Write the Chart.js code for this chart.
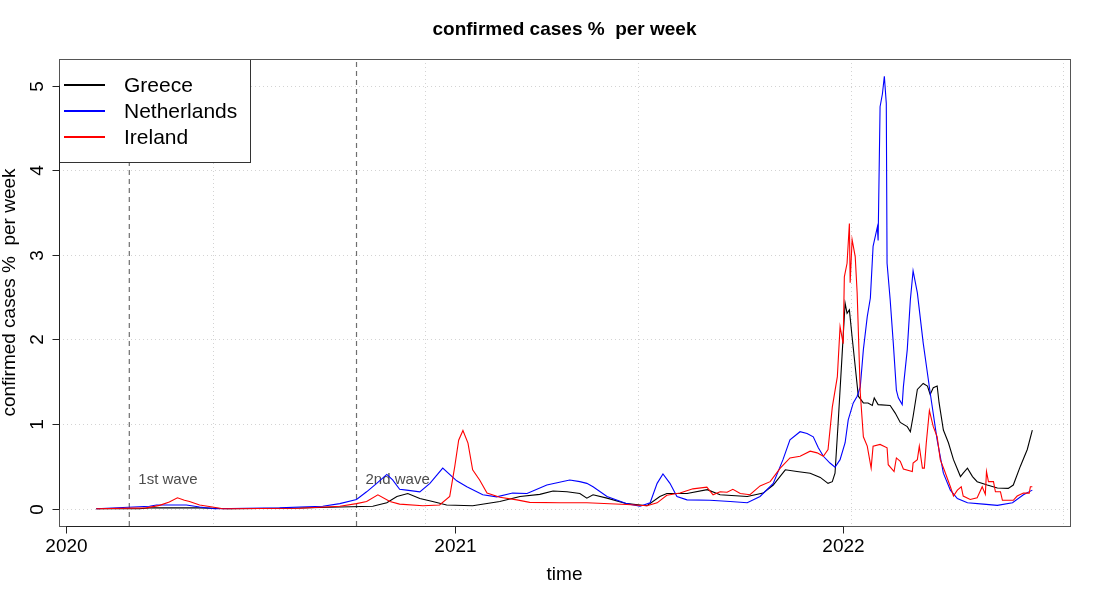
<!DOCTYPE html>
<html>
<head>
<meta charset="utf-8">
<script src="https://cdn.jsdelivr.net/npm/chart.js@4.4.1/dist/chart.umd.min.js"></script>
<style>
  html, body { margin: 0; padding: 0; background: #fff; }
  #wrap { width: 1100px; height: 600px; }
</style>
</head>
<body>
<div id="wrap"><canvas id="chart" width="1100" height="600"></canvas></div>
<script>
// time is in decimal years
var greeceTime = [2020.077, 2020.188, 2020.214, 2020.343, 2020.420, 2020.575, 2020.704, 2020.789, 2020.825, 2020.851,
  2020.879, 2020.910, 2020.943, 2020.979, 2021.046, 2021.116, 2021.168, 2021.219, 2021.253, 2021.289,
  2021.322, 2021.340, 2021.356, 2021.392, 2021.443, 2021.495, 2021.528, 2021.546, 2021.598, 2021.650,
  2021.683, 2021.753, 2021.794, 2021.820, 2021.851, 2021.881, 2021.915, 2021.941, 2021.961, 2021.972,
  2021.979, 2021.987, 2021.997, 2022.005, 2022.010, 2022.016, 2022.023, 2022.031, 2022.039, 2022.052,
  2022.064, 2022.075, 2022.080, 2022.090, 2022.121, 2022.134, 2022.147, 2022.165, 2022.173, 2022.180,
  2022.191, 2022.206, 2022.217, 2022.224, 2022.232, 2022.242, 2022.247, 2022.258, 2022.271, 2022.284,
  2022.302, 2022.309, 2022.320, 2022.333, 2022.345, 2022.371, 2022.397, 2022.425, 2022.438, 2022.456,
  2022.474, 2022.487];
var greeceCases = [0, 0, 0.01, 0.01, 0, 0.005, 0.02, 0.03, 0.07, 0.145,
  0.18, 0.12, 0.085, 0.045, 0.035, 0.085, 0.145, 0.17, 0.21, 0.2,
  0.18, 0.125, 0.165, 0.125, 0.06, 0.035, 0.145, 0.18, 0.18, 0.225,
  0.165, 0.145, 0.185, 0.28, 0.46, 0.44, 0.42, 0.37, 0.3, 0.32,
  0.42, 1.01, 1.8, 2.43, 2.31, 2.35, 2.03, 1.68, 1.33, 1.25,
  1.25, 1.22, 1.31, 1.23, 1.22, 1.13, 1.02, 0.97, 0.91, 1.09,
  1.41, 1.48, 1.45, 1.35, 1.43, 1.45, 1.25, 0.93, 0.78, 0.58,
  0.38, 0.42, 0.48, 0.38, 0.32, 0.28, 0.245, 0.24, 0.28, 0.5,
  0.7, 0.93];

var netherlandsTime = [2020.077, 2020.214, 2020.232, 2020.309, 2020.343, 2020.381, 2020.549, 2020.601, 2020.660, 2020.704,
  2020.747, 2020.773, 2020.799, 2020.825, 2020.840, 2020.858, 2020.876, 2020.910, 2020.936, 2020.969,
  2021.005, 2021.031, 2021.072, 2021.108, 2021.149, 2021.186, 2021.237, 2021.296, 2021.322, 2021.340,
  2021.356, 2021.392, 2021.443, 2021.477, 2021.503, 2021.521, 2021.536, 2021.554, 2021.572, 2021.598,
  2021.657, 2021.709, 2021.753, 2021.786, 2021.820, 2021.845, 2021.863, 2021.889, 2021.907, 2021.923,
  2021.936, 2021.949, 2021.966, 2021.979, 2021.992, 2022.005, 2022.013, 2022.026, 2022.036, 2022.044,
  2022.052, 2022.062, 2022.070, 2022.077, 2022.088, 2022.090, 2022.095, 2022.101, 2022.106, 2022.111,
  2022.113, 2022.121, 2022.129, 2022.137, 2022.142, 2022.152, 2022.155, 2022.165, 2022.173, 2022.180,
  2022.191, 2022.206, 2022.224, 2022.242, 2022.258, 2022.276, 2022.294, 2022.320, 2022.361, 2022.397,
  2022.436, 2022.464, 2022.487];
var netherlandsCases = [0, 0.03, 0.045, 0.045, 0.02, 0, 0.01, 0.02, 0.03, 0.06,
  0.11, 0.2, 0.3, 0.405, 0.34, 0.23, 0.22, 0.2, 0.3, 0.48,
  0.33, 0.26, 0.165, 0.14, 0.185, 0.18, 0.28, 0.34, 0.32, 0.3,
  0.26, 0.145, 0.06, 0.03, 0.07, 0.3, 0.41, 0.3, 0.145, 0.105,
  0.1, 0.085, 0.07, 0.145, 0.3, 0.58, 0.815, 0.91, 0.89, 0.85,
  0.72, 0.62, 0.54, 0.49, 0.58, 0.78, 1.05, 1.25, 1.33, 1.44,
  1.88, 2.27, 2.49, 3.1, 3.33, 3.17, 4.75, 4.9, 5.11, 4.79,
  2.9, 2.47, 1.96, 1.4, 1.31, 1.23, 1.44, 1.88, 2.47, 2.81,
  2.55, 1.96, 1.37, 0.81, 0.42, 0.22, 0.12, 0.07, 0.055, 0.04,
  0.07, 0.165, 0.22];

var irelandTime = [2020.077, 2020.206, 2020.240, 2020.265, 2020.286, 2020.304, 2020.317, 2020.343, 2020.376, 2020.402,
  2020.601, 2020.704, 2020.747, 2020.773, 2020.802, 2020.833, 2020.858, 2020.918, 2020.961, 2020.987,
  2021.000, 2021.010, 2021.021, 2021.034, 2021.046, 2021.064, 2021.083, 2021.116, 2021.160, 2021.193,
  2021.271, 2021.340, 2021.443, 2021.495, 2021.521, 2021.546, 2021.580, 2021.613, 2021.649, 2021.665,
  2021.683, 2021.701, 2021.716, 2021.735, 2021.760, 2021.786, 2021.812, 2021.838, 2021.863, 2021.889,
  2021.915, 2021.933, 2021.949, 2021.961, 2021.972, 2021.985, 2021.992, 2022.000, 2022.003, 2022.010,
  2022.016, 2022.018, 2022.023, 2022.031, 2022.036, 2022.044, 2022.052, 2022.062, 2022.072, 2022.077,
  2022.095, 2022.113, 2022.116, 2022.131, 2022.137, 2022.147, 2022.155, 2022.178, 2022.180, 2022.191,
  2022.196, 2022.204, 2022.209, 2022.214, 2022.222, 2022.232, 2022.242, 2022.250, 2022.260, 2022.276,
  2022.284, 2022.294, 2022.304, 2022.309, 2022.327, 2022.345, 2022.358, 2022.366, 2022.369, 2022.374,
  2022.387, 2022.392, 2022.405, 2022.410, 2022.438, 2022.448, 2022.464, 2022.479, 2022.482, 2022.487];
var irelandCases = [0, 0.01, 0.04, 0.08, 0.13, 0.1, 0.085, 0.045, 0.02, 0,
  0.005, 0.03, 0.06, 0.085, 0.165, 0.085, 0.055, 0.035, 0.045, 0.145,
  0.5, 0.81, 0.925, 0.775, 0.46, 0.34, 0.185, 0.135, 0.105, 0.075,
  0.07, 0.07, 0.05, 0.035, 0.07, 0.16, 0.185, 0.235, 0.255, 0.165,
  0.2, 0.195, 0.23, 0.18, 0.165, 0.27, 0.32, 0.48, 0.6, 0.62,
  0.68, 0.66, 0.62, 0.7, 1.2, 1.56, 2.15, 1.95, 2.74, 2.9,
  3.37, 2.67, 3.18, 2.98, 2.55, 1.37, 0.85, 0.74, 0.48, 0.74,
  0.76, 0.72, 0.52, 0.44, 0.6, 0.56, 0.47, 0.44, 0.54, 0.58,
  0.74, 0.48, 0.48, 0.78, 1.16, 0.97, 0.85, 0.58, 0.46, 0.26,
  0.15, 0.22, 0.26, 0.15, 0.11, 0.13, 0.26, 0.17, 0.44, 0.32,
  0.32, 0.2, 0.2, 0.1, 0.1, 0.15, 0.185, 0.185, 0.26, 0.26];

var waveTimes = [2020.162, 2020.747];          // 2020-03-01, 2020-10-01
var waveLabels = ['1st wave', '2nd wave'];
var xTickYears = [2020, 2021, 2022];
var xGridYears = [2020.377, 2020.923, 2021.471, 2022.019, 2022.567];
var yTicks = [0, 1, 2, 3, 4, 5];

var xMin = 2019.981, xMax = 2022.584;
var yMin = -0.204, yMax = 5.314;

var FONT = '"Liberation Sans", Arial, Helvetica, sans-serif';

function points(t, v) {
  var out = [];
  for (var i = 0; i < t.length; i++) out.push({x: t[i], y: v[i]});
  return out;
}

function waveLine(t) {
  return {
    label: 'wave', data: [{x: t, y: yMin}, {x: t, y: yMax}],
    borderColor: '#6e6e6e', borderWidth: 1.2, borderDash: [5, 4],
    pointRadius: 0, order: 5
  };
}

var seriesInfo = [
  {label: 'Greece', color: '#000000'},
  {label: 'Netherlands', color: '#0000ff'},
  {label: 'Ireland', color: '#ff0000'}
];

var rPlot = {
  id: 'rPlot',
  beforeDraw: function(chart) {
    var c = chart.ctx, a = chart.chartArea;
    var xs = chart.scales.x, ys = chart.scales.y;
    c.save();
    c.fillStyle = '#fff';
    c.fillRect(0, 0, chart.width, chart.height);
    // dotted grid
    c.strokeStyle = '#d3d3d3';
    c.lineWidth = 1;
    c.setLineDash([1, 3]);
    yTicks.forEach(function(v) {
      var y = Math.round(ys.getPixelForValue(v)) + 0.5;
      c.beginPath(); c.moveTo(a.left, y); c.lineTo(a.right, y); c.stroke();
    });
    xGridYears.forEach(function(v) {
      var x = Math.round(xs.getPixelForValue(v)) + 0.5;
      c.beginPath(); c.moveTo(x, a.top); c.lineTo(x, a.bottom); c.stroke();
    });
    c.setLineDash([]);
    // wave labels
    c.fillStyle = '#4d4d4d';
    c.font = '15px ' + FONT;
    c.textBaseline = 'middle';
    c.textAlign = 'left';
    waveTimes.forEach(function(t, i) {
      c.fillText(waveLabels[i], xs.getPixelForValue(t) + 9, ys.getPixelForValue(0.34));
    });
    c.restore();
  },
  afterDraw: function(chart) {
    var c = chart.ctx, a = chart.chartArea;
    var xs = chart.scales.x, ys = chart.scales.y;
    c.save();
    // legend
    var lx = a.left, ly = a.top, lw = 191, lh = 103;
    c.fillStyle = '#fff';
    c.fillRect(lx, ly, lw, lh);
    c.strokeStyle = '#333';
    c.lineWidth = 1;
    c.strokeRect(lx + 0.5, ly + 0.5, lw, lh);
    c.font = '21px ' + FONT;
    c.textBaseline = 'middle';
    c.textAlign = 'left';
    seriesInfo.forEach(function(s, i) {
      var y = ly + 26 + i * 26;
      c.strokeStyle = s.color;
      c.lineWidth = 2;
      c.beginPath(); c.moveTo(lx + 5, y); c.lineTo(lx + 46, y); c.stroke();
      c.fillStyle = '#000';
      c.fillText(s.label, lx + 65, y + 1);
    });
    // box
    c.strokeStyle = '#555';
    c.lineWidth = 1;
    c.strokeRect(a.left + 0.5, a.top + 0.5, a.right - a.left, a.bottom - a.top);
    // axes
    c.strokeStyle = '#222';
    c.fillStyle = '#000';
    c.font = '19px ' + FONT;
    var yb = Math.round(a.bottom) + 0.5;
    var x0 = xs.getPixelForValue(xTickYears[0]);
    var x1 = xs.getPixelForValue(xTickYears[xTickYears.length - 1]);
    c.beginPath(); c.moveTo(x0, yb); c.lineTo(x1, yb); c.stroke();
    c.textAlign = 'center';
    c.textBaseline = 'middle';
    xTickYears.forEach(function(v) {
      var x = Math.round(xs.getPixelForValue(v)) + 0.5;
      c.beginPath(); c.moveTo(x, yb); c.lineTo(x, yb + 7); c.stroke();
      c.fillText(String(v), x, yb + 20);
    });
    var xl = Math.round(a.left) + 0.5;
    var yTop = ys.getPixelForValue(yTicks[yTicks.length - 1]);
    var yBot = ys.getPixelForValue(yTicks[0]);
    c.beginPath(); c.moveTo(xl, yTop); c.lineTo(xl, yBot); c.stroke();
    yTicks.forEach(function(v) {
      var y = Math.round(ys.getPixelForValue(v)) + 0.5;
      c.beginPath(); c.moveTo(xl, y); c.lineTo(xl - 7, y); c.stroke();
      c.save();
      c.translate(xl - 22, y);
      c.rotate(-Math.PI / 2);
      c.fillText(String(v), 0, 0);
      c.restore();
    });
    // titles
    c.font = 'bold 19px ' + FONT;
    c.fillText('confirmed cases %  per week', (a.left + a.right) / 2, 30);
    c.font = '19px ' + FONT;
    c.fillText('time', (a.left + a.right) / 2, 575);
    c.save();
    c.translate(10, (a.top + a.bottom) / 2);
    c.rotate(-Math.PI / 2);
    c.fillText('confirmed cases %  per week', 0, 0);
    c.restore();
    c.restore();
  }
};

var ctx = document.getElementById('chart').getContext('2d');
var chart = new Chart(ctx, {
  type: 'line',
  data: {
    datasets: [
      {label: 'Greece', data: points(greeceTime, greeceCases), borderColor: '#000000', borderWidth: 1.1, pointRadius: 0, order: 3},
      {label: 'Netherlands', data: points(netherlandsTime, netherlandsCases), borderColor: '#0000ff', borderWidth: 1.1, pointRadius: 0, order: 2},
      {label: 'Ireland', data: points(irelandTime, irelandCases), borderColor: '#ff0000', borderWidth: 1.1, pointRadius: 0, order: 1},
      waveLine(waveTimes[0]),
      waveLine(waveTimes[1])
    ]
  },
  options: {
    responsive: false,
    animation: false,
    devicePixelRatio: 1,
    layout: { padding: { left: 59, right: 30, top: 59, bottom: 74 } },
    elements: { line: { tension: 0 } },
    scales: {
      x: { type: 'linear', min: xMin, max: xMax, display: false },
      y: { type: 'linear', min: yMin, max: yMax, display: false }
    },
    plugins: {
      legend: { display: false },
      tooltip: { enabled: false }
    }
  },
  plugins: [rPlot]
});
</script>
</body>
</html>
